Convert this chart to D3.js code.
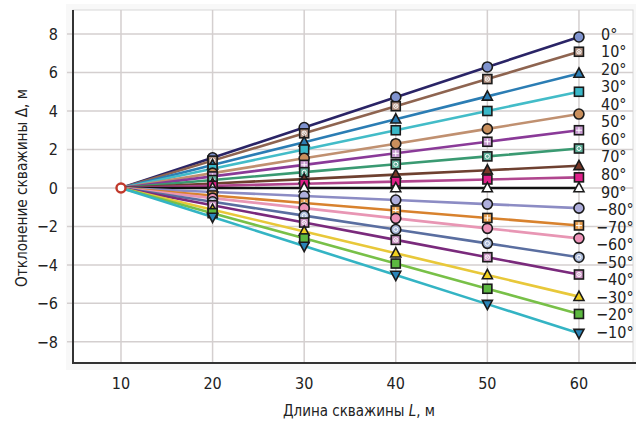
<!DOCTYPE html>
<html><head><meta charset="utf-8">
<script src="https://cdn.jsdelivr.net/npm/d3@7/dist/d3.min.js"></script>
<style>
body{margin:0;background:#fff;}
text{font-family:"Liberation Sans Narrow","DejaVu Sans Condensed",Roboto,sans-serif;fill:#222;}
</style></head><body>
<svg id="c" width="636" height="421"></svg>
<script>
const lengths = [10, 20, 30, 40, 50, 60];
const xTicks = [10, 20, 30, 40, 50, 60];
const yTicks = [-8, -6, -4, -2, 0, 2, 4, 6, 8];
const yTickLabels = ["−8", "−6", "−4", "−2", "0", "2", "4", "6", "8"];
const angleLabels = ["0°","10°","20°","30°","40°","50°","60°","70°","80°","90°","−80°","−70°","−60°","−50°","−40°","−30°","−20°","−10°"];
const s0   = [0, 1.57, 3.14, 4.72, 6.29, 7.85];
const s10  = [0, 1.42, 2.84, 4.25, 5.66, 7.08];
const s20  = [0, 1.19, 2.38, 3.57, 4.76, 5.95];
const s30  = [0, 1.00, 2.00, 3.00, 4.00, 5.00];
const s40  = [0, 0.77, 1.54, 2.30, 3.07, 3.84];
const s50  = [0, 0.60, 1.20, 1.80, 2.40, 3.00];
const s60  = [0, 0.41, 0.82, 1.23, 1.64, 2.05];
const s70  = [0, 0.23, 0.46, 0.69, 0.92, 1.15];
const s80  = [0, 0.11, 0.22, 0.33, 0.44, 0.55];
const s90  = [0, 0, 0, 0, 0, 0];
const sm80 = [0, -0.21, -0.42, -0.63, -0.84, -1.05];
const sm70 = [0, -0.39, -0.78, -1.17, -1.56, -1.95];
const sm60 = [0, -0.53, -1.05, -1.58, -2.10, -2.62];
const sm50 = [0, -0.72, -1.44, -2.16, -2.88, -3.60];
const sm40 = [0, -0.90, -1.80, -2.70, -3.60, -4.50];
const sm30 = [0, -1.13, -2.26, -3.39, -4.52, -5.65];
const sm20 = [0, -1.31, -2.62, -3.93, -5.24, -6.55];
const sm10 = [0, -1.51, -3.02, -4.53, -6.04, -7.55];
const seriesValues = [s0,s10,s20,s30,s40,s50,s60,s70,s80,s90,sm80,sm70,sm60,sm50,sm40,sm30,sm20,sm10];

const styles = [
  {line:"#2a2466", fill:"#7f93cf", shape:"circle"},
  {line:"#8e6450", fill:"#b09080", shape:"square", inner:"xcircle"},
  {line:"#2b7db4", fill:"#2b7db4", shape:"triangle"},
  {line:"#43bcc8", fill:"#3ab8c8", shape:"square"},
  {line:"#c09070", fill:"#c98f5c", shape:"circle"},
  {line:"#8a3a98", fill:"#c79ad0", shape:"square", inner:"plus"},
  {line:"#3a9a72", fill:"#5fb09a", shape:"square", inner:"circle"},
  {line:"#6e4030", fill:"#7a3828", shape:"triangle"},
  {line:"#b0468e", fill:"#e0208a", shape:"square"},
  {line:"#111111", fill:"#ffffff", shape:"triangle"},
  {line:"#8c8cc4", fill:"#aeaedc", shape:"circle"},
  {line:"#d8822e", fill:"#e8a050", shape:"square", inner:"plus"},
  {line:"#e896b4", fill:"#ee92b8", shape:"circle"},
  {line:"#5a6ea0", fill:"#a8b8d8", shape:"circle", inner:"circle"},
  {line:"#7a2a7c", fill:"#c890c0", shape:"square", inner:"xcircle"},
  {line:"#e8c83a", fill:"#f0d020", shape:"triangle"},
  {line:"#78c048", fill:"#5cb840", shape:"square"},
  {line:"#34b4c4", fill:"#2a84b8", shape:"triangledown"}
];

const svg = d3.select("#c");
const x = d3.scaleLinear().domain([4.76, 65.9]).range([73, 633]);
const y = d3.scaleLinear().domain([-9.1, 9.25]).range([363, 10]);

svg.append("rect").attr("x",66).attr("y",4).attr("width",570).attr("height",366).attr("fill","#f8f8f8");
svg.append("rect").attr("x",x.range()[0]).attr("y",y.range()[1]).attr("width",x.range()[1]-x.range()[0]).attr("height",y.range()[0]-y.range()[1]).attr("fill","#fff").attr("stroke","#d8d8d8");

svg.append("g").selectAll("line").data(xTicks).join("line")
  .attr("x1",d=>x(d)).attr("x2",d=>x(d)).attr("y1",y.range()[1]).attr("y2",y.range()[0])
  .attr("stroke","#d4cfcf").attr("stroke-width",1.5);
svg.append("g").selectAll("line").data(yTicks).join("line")
  .attr("x1",67).attr("x2",x.range()[1]).attr("y1",d=>y(d)).attr("y2",d=>y(d))
  .attr("stroke","#d4cfcf").attr("stroke-width",1.5);

svg.append("line").attr("x1",73).attr("x2",73).attr("y1",y.range()[1]).attr("y2",y.range()[0]+1).attr("stroke","#333").attr("stroke-width",2);
svg.append("line").attr("x1",72).attr("x2",636).attr("y1",y.range()[0]).attr("y2",y.range()[0]).attr("stroke","#333").attr("stroke-width",2);

svg.append("g").selectAll("text").data(yTicks).join("text")
  .attr("x",58).attr("y",d=>y(d)).attr("dy","0.36em").attr("text-anchor","end")
  .attr("font-size",16).text((d,i)=>yTickLabels[i]);
svg.append("g").selectAll("text").data(xTicks).join("text")
  .attr("x",d=>x(d)).attr("y",389).attr("text-anchor","middle")
  .attr("font-size",16).text(d=>d);

const xt = svg.append("text").attr("x",359).attr("y",416).attr("text-anchor","middle").attr("font-size",15);
xt.append("tspan").text("Длина скважины ");
xt.append("tspan").attr("font-style","italic").text("L");
xt.append("tspan").text(", м");
svg.append("text").attr("transform","translate(27,188) rotate(-90)").attr("text-anchor","middle")
  .attr("font-size",15).attr("textLength",198).attr("lengthAdjust","spacingAndGlyphs")
  .text("Отклонение скважины Δ, м");

const line = d3.line().x((d,i)=>x(lengths[i])).y(d=>y(d));
svg.append("g").selectAll("path").data(seriesValues).join("path")
  .attr("d",line).attr("fill","none").attr("stroke",(d,i)=>styles[i].line).attr("stroke-width",2.6);

const mg = svg.append("g");
seriesValues.forEach((vals,si)=>{
  const st = styles[si];
  vals.forEach((v,j)=>{
    if(j===0) return;
    const g = mg.append("g").attr("transform",`translate(${x(lengths[j])},${y(v)})`);
    const stroke = "#1a1a1a";
    if(st.shape==="circle"){
      g.append("circle").attr("r",5).attr("fill",st.fill).attr("stroke",stroke).attr("stroke-width",1.6);
    } else if(st.shape==="square"){
      g.append("rect").attr("x",-4.5).attr("y",-4.5).attr("width",9).attr("height",9).attr("fill",st.fill).attr("stroke",stroke).attr("stroke-width",1.6);
    } else if(st.shape==="triangle"){
      g.append("path").attr("d","M0,-5.5L5,3.8L-5,3.8Z").attr("fill",st.fill).attr("stroke",stroke).attr("stroke-width",1.6);
    } else {
      g.append("path").attr("d","M0,5.5L5,-3.8L-5,-3.8Z").attr("fill",st.fill).attr("stroke",stroke).attr("stroke-width",1.6);
    }
    if(st.inner==="plus"){
      g.append("path").attr("d","M-3,0H3M0,-3V3").attr("stroke","#fff").attr("stroke-width",1);
    } else if(st.inner==="circle"){
      g.append("circle").attr("r",2).attr("fill","none").attr("stroke","#fff").attr("stroke-width",1);
    } else if(st.inner==="xcircle"){
      g.append("circle").attr("r",2.2).attr("fill","none").attr("stroke","#fff").attr("stroke-width",0.9);
      g.append("path").attr("d","M-1.5,-1.5L1.5,1.5M-1.5,1.5L1.5,-1.5").attr("stroke","#fff").attr("stroke-width",0.8);
    }
  });
});

svg.append("circle").attr("cx",x(lengths[0])).attr("cy",y(s0[0])).attr("r",4.5)
  .attr("fill","#fff").attr("stroke","#c0392b").attr("stroke-width",2.4);

const ly = d3.scalePoint().domain(angleLabels).range([34, 332]);
svg.append("g").selectAll("text").data(angleLabels).join("text")
  .attr("x",d=>d.startsWith("−")?596:601).attr("y",d=>ly(d)).attr("dy","0.36em")
  .attr("font-size",16).text(d=>d);
</script>
</body></html>
